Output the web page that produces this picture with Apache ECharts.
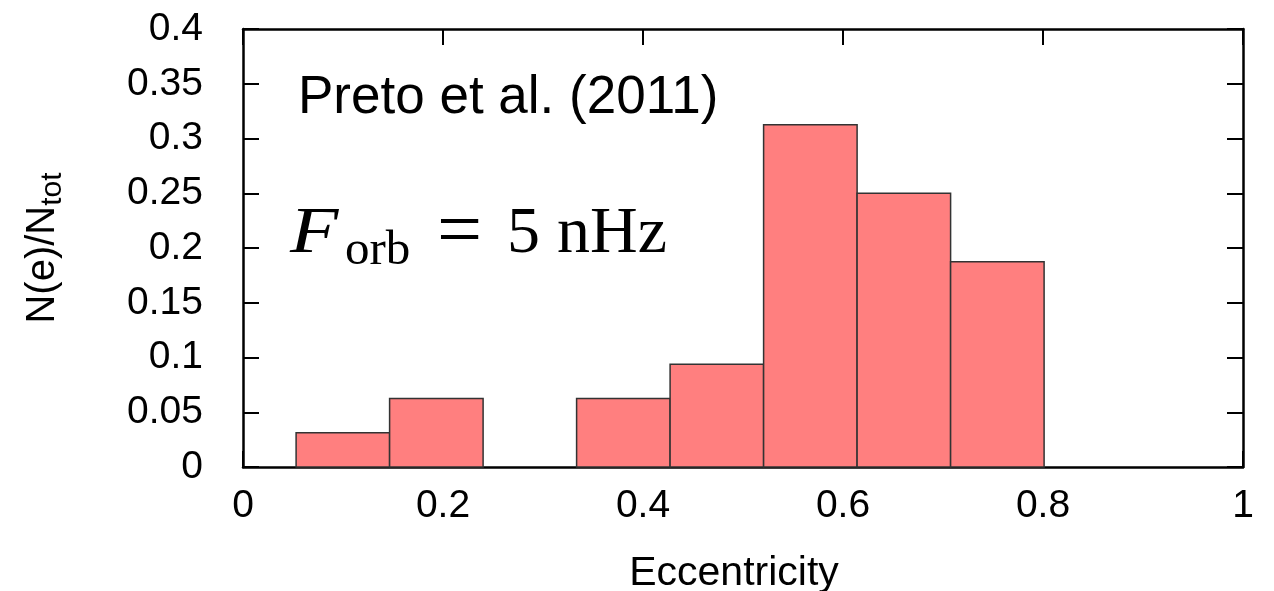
<!DOCTYPE html>
<html>
<head>
<meta charset="utf-8">
<script src="https://cdn.jsdelivr.net/npm/echarts@6/dist/echarts.min.js"></script>
<style>
  html, body { margin: 0; padding: 0; background: #fff; }
  #chart { width: 1274px; height: 591px; }
</style>
</head>
<body>
<div id="chart"></div>
<script>
// Eccentricity histogram: bin edges and fraction of binaries per bin
const binEdges = [0.0531, 0.1466, 0.2401, 0.3336, 0.4271, 0.5206, 0.6141, 0.7076, 0.8011];
const fractions = [0.03125, 0.0625, 0, 0.0625, 0.09375, 0.3125, 0.25, 0.1875];

// Axis ranges and tick steps
const xRange = [0, 1];
const xStep = 0.2;
const yRange = [0, 0.4];
const yStep = 0.05;

const font = 'Liberation Sans';
const serif = 'Liberation Serif';

const bins = fractions.map((v, i) => [binEdges[i], binEdges[i + 1], v]);

const chart = echarts.init(document.getElementById('chart'), null, { renderer: 'canvas' });

const axisLine = { show: true, onZero: false, lineStyle: { color: '#000', width: 2.5 } };
const axisTick = { show: true, inside: true, length: 16, lineStyle: { color: '#000', width: 2 } };

chart.setOption({
  animation: false,
  backgroundColor: '#fff',
  grid: { left: 243, right: 31, top: 29, bottom: 124, containLabel: false, outerBoundsMode: 'none' },
  xAxis: [
    {
      type: 'value', min: xRange[0], max: xRange[1], interval: xStep,
      position: 'bottom',
      axisLine, axisTick, splitLine: { show: false },
      axisLabel: { fontFamily: font, fontSize: 39, color: '#000', margin: 20 },
      name: 'Eccentricity', nameLocation: 'middle', nameGap: 86,
      nameTextStyle: { fontFamily: font, fontSize: 41, color: '#000', padding: [0, 18, 0, 0] }
    },
    {
      type: 'value', min: xRange[0], max: xRange[1], interval: xStep,
      position: 'top',
      axisLine, axisTick, splitLine: { show: false },
      axisLabel: { show: false }
    }
  ],
  yAxis: [
    {
      type: 'value', min: yRange[0], max: yRange[1], interval: yStep,
      position: 'left',
      axisLine, axisTick, splitLine: { show: false },
      axisLabel: { fontFamily: font, fontSize: 39, color: '#000', margin: 40 },
      name: 'N(e)/N{sub|tot}', nameLocation: 'middle', nameGap: 175,
      nameTextStyle: {
        fontFamily: font, fontSize: 40, color: '#000',
        rich: {
          sub: { fontFamily: font, fontSize: 30, color: '#000', padding: [20, 0, 0, 0] }
        }
      }
    },
    {
      type: 'value', min: yRange[0], max: yRange[1], interval: yStep,
      position: 'right',
      axisLine, axisTick, splitLine: { show: false },
      axisLabel: { show: false }
    }
  ],
  series: [
    {
      type: 'custom',
      xAxisIndex: 0, yAxisIndex: 0,
      data: bins,
      renderItem: function (params, api) {
        const p0 = api.coord([api.value(0), 0]);
        const p1 = api.coord([api.value(1), api.value(2)]);
        if (api.value(2) <= 0) return null;
        return {
          type: 'rect',
          shape: { x: p0[0], y: p1[1], width: p1[0] - p0[0], height: p0[1] - p1[1] },
          style: { fill: '#ff7f7f', stroke: '#333', lineWidth: 1.5 }
        };
      },
      z: 1
    }
  ],
  graphic: [
    {
      type: 'text', left: 298, top: 72, z: 10,
      style: { text: 'Preto et al. (2011)', fontFamily: font, fontSize: 53, fill: '#000' }
    },
    { type: 'text', x: 290, y: 235, z: 10, scaleX: 1.2,
      style: { text: 'F', fontFamily: serif, fontStyle: 'italic', fontSize: 66, fill: '#000', verticalAlign: 'middle' } },
    { type: 'text', x: 345, y: 251, z: 10,
      style: { text: 'orb', fontFamily: serif, fontSize: 49, fill: '#000', verticalAlign: 'middle' } },
    { type: 'text', x: 437, y: 235, z: 10,
      style: { text: '=', fontFamily: serif, fontSize: 80, fill: '#000', verticalAlign: 'middle' } },
    { type: 'text', x: 507, y: 235, z: 10,
      style: { text: '5', fontFamily: serif, fontSize: 66, fill: '#000', verticalAlign: 'middle' } },
    { type: 'text', x: 557, y: 235, z: 10,
      style: { text: 'nHz', fontFamily: serif, fontSize: 66, fill: '#000', verticalAlign: 'middle' } }
  ]
});
</script>
</body>
</html>
